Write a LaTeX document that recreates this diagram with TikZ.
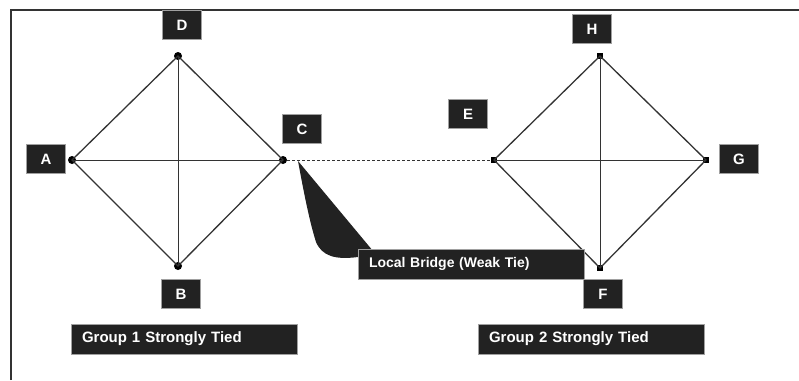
\documentclass[tikz,border=0pt]{standalone}
\usepackage{fontspec}
\setmainfont{Liberation Sans}
\definecolor{boxfill}{HTML}{222222}
\definecolor{boxedge}{HTML}{A0A0A0}
\definecolor{linec}{HTML}{333333}
\begin{document}
\begin{tikzpicture}[x=1pt,y=-1pt,
  lbl/.style={fill=boxfill,draw=boxedge,line width=0.6pt,text=white,font=\bfseries\fontsize{15}{17}\selectfont,
    minimum width=39pt,minimum height=29pt,inner sep=0pt},
  widelbl/.style={lbl,text width=204pt,align=left,inner xsep=11pt,minimum height=30pt},
  rdot/.style={circle,fill=black,inner sep=0pt,minimum size=8pt},
  sdot/.style={rectangle,fill=black,inner sep=0pt,minimum size=5.5pt},
  edge/.style={draw=linec,line width=1.3pt},
  cross/.style={draw=linec,line width=0.8pt},
  bridge/.style={draw=linec,line width=0.7pt,dash pattern=on 3pt off 2pt},
  frame/.style={draw=linec,line width=2.2pt}]
\useasboundingbox (0,0) rectangle (799,380);
% frame
\coordinate (f1) at (11,380);
\coordinate (f2) at (11,10);
\coordinate (f3) at (799,10);
\draw[frame] (f1) -- (f2) -- (f3);
% group 1
\node[rdot] (A) at (72,160) {};
\node[rdot] (D) at (178,56) {};
\node[rdot] (C) at (283,160) {};
\node[rdot] (B) at (178,266) {};
% group 2
\node[sdot] (E) at (494,160) {};
\node[sdot] (H) at (600,56) {};
\node[sdot] (G) at (706,160) {};
\node[sdot] (F) at (600,268) {};
% edges group 1
\draw[edge] (A.center) -- (D.center) -- (C.center) -- (B.center) -- cycle;
\draw[cross] (A.center) -- (C.center);
\draw[cross] (D.center) -- (B.center);
% edges group 2
\draw[edge] (E.center) -- (H.center) -- (G.center) -- (F.center) -- cycle;
\draw[cross] (E.center) -- (G.center);
\draw[cross] (H.center) -- (F.center);
% bridge
\draw[bridge] (C) -- (E);
% callout
\coordinate (tip) at (298,161);
\fill[boxfill] (tip) -- (373,251) -- (358,251) -- (358,257)
  .. controls (335,260) and (322,256) .. (316,242)
  .. controls (309,220) and (303,188) .. (tip) -- cycle;
% labels
\node[lbl] (lA) at (46,159) {A};
\node[lbl] (lD) at (182,25) {D};
\node[lbl] (lC) at (302,129) {C};
\node[lbl] (lB) at (181,294) {B};
\node[lbl] (lE) at (468,114) {E};
\node[lbl] (lH) at (592,29) {H};
\node[lbl] (lG) at (739,159) {G};
\node[lbl] (lF) at (603,294) {F};
\node[widelbl] (g1) at (184,339) {Group 1 Strongly Tied};
\node[widelbl] (g2) at (591,339) {Group 2 Strongly Tied};
\node[widelbl,font=\bfseries\fontsize{14}{16}\selectfont] (lb) at (471,264) {Local Bridge (Weak Tie)};
\end{tikzpicture}
\end{document}
